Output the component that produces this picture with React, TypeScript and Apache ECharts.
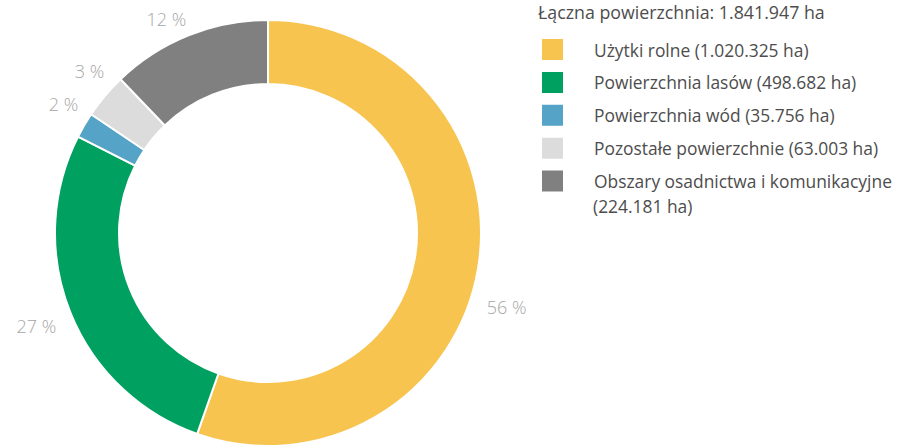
import React, { useEffect, useRef } from "react";
import * as echarts from "echarts";

const categories = [
  "Użytki rolne",
  "Powierzchnia lasów",
  "Powierzchnia wód",
  "Pozostałe powierzchnie",
  "Obszary osadnictwa i komunikacyjne",
];
const areaLabels = ["1.020.325 ha", "498.682 ha", "35.756 ha", "63.003 ha", "224.181 ha"];
const values = [1020325, 498682, 35756, 63003, 224181];
const pctLabels = ["56 %", "27 %", "2 %", "3 %", "12 %"];
const colors = ["#F6C44F", "#00A060", "#55A3C7", "#DCDCDC", "#808080"];
const totalLabel = "Łączna powierzchnia: 1.841.947 ha";

// layout nudges of the percentage labels (pixels), to follow the original placement
const labelNudgeX = [-14, 8, 15, 19, 12];
const labelNudgeY = [36, 9, -14, -16, -3];

const FONT = "'Open Sans', 'Noto Sans', sans-serif";
const TEXT = "#4d4d4d";

export default function App() {
  const ref = useRef<HTMLDivElement>(null);
  useEffect(() => {
    if (!ref.current) return;
    const chart = echarts.init(ref.current, undefined, { renderer: "svg" });
    const lastIdx = categories.length - 1;
    chart.setOption({
      animation: false,
      graphic: [
        {
          type: "text",
          left: 538,
          top: 3,
          style: { text: totalLabel, fontSize: 17.8, fontFamily: FONT, fill: TEXT },
        },
        {
          type: "text",
          left: 593,
          top: 196,
          style: { text: `(${areaLabels[lastIdx]})`, fontSize: 17.4, lineHeight: 20, fontFamily: FONT, fill: TEXT },
        },
      ],
      legend: {
        orient: "vertical",
        left: 535,
        top: 32,
        itemWidth: 23,
        itemHeight: 23,
        itemGap: 7.9,
        icon: "rect",
        selectedMode: false,
        data: categories,
        formatter: (name: string) => {
          const i = categories.indexOf(name);
          return i === lastIdx ? name : `${name} (${areaLabels[i]})`;
        },
        textStyle: { fontSize: 17.4, lineHeight: 20, fontFamily: FONT, color: TEXT, padding: [0, 0, 0, 25] },
      },
      series: [
        {
          type: "pie",
          center: [268, 233],
          radius: [149, 213],
          startAngle: 90,
          clockwise: true,
          color: colors,
          itemStyle: { borderColor: "#fff", borderWidth: 2 },
          label: {
            show: true,
            position: "outside",
            formatter: (p: any) => pctLabels[p.dataIndex],
            color: "#A6A6A6",
            fontSize: 18,
            fontWeight: 300,
            fontFamily: FONT,
            overflow: "none",
          },
          labelLine: { show: false, length: 14, length2: 4 },
          labelLayout: (p: any) => ({ dx: labelNudgeX[p.dataIndex], dy: labelNudgeY[p.dataIndex] }),
          emphasis: { disabled: true },
          data: categories.map((name, i) => ({ name, value: values[i] })),
        },
      ],
    });
    return () => chart.dispose();
  }, []);
  return (
    <div
      ref={ref}
      style={{ position: "absolute", left: 0, top: 0, width: 909, height: 447 }}
    />
  );
}
